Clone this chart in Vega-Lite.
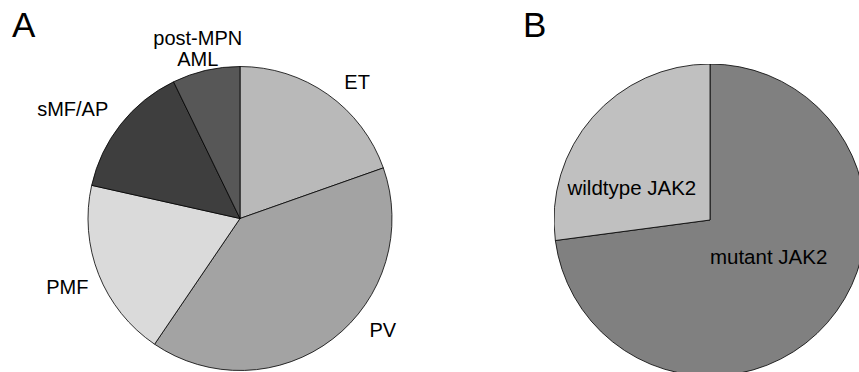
{
  "$schema": "https://vega.github.io/schema/vega-lite/v6.json",
  "background": "white",
  "padding": {"left": 12, "top": 8, "right": 0, "bottom": 0},
  "bounds": "flush",
  "spacing": 162,
  "resolve": {"scale": {"color": "independent", "theta": "independent"}},
  "config": {
    "view": {"stroke": null},
    "font": "Liberation Sans",
    "title": {"fontSize": 35, "fontWeight": "normal", "anchor": "start", "frame": "group", "color": "black", "font": "Liberation Sans"}
  },
  "hconcat": [
    {
      "width": 304,
      "height": 309,
      "title": {"text": "A", "dx": -76, "dy": 36},
      "data": {"values": [
        {"cat": "ET", "i": 1, "pct": 19.6},
        {"cat": "PV", "i": 2, "pct": 39.9},
        {"cat": "PMF", "i": 3, "pct": 19.0},
        {"cat": "sMF/AP", "i": 4, "pct": 14.3},
        {"cat": "post-MPN AML", "i": 5, "pct": 7.2}
      ]},
      "layer": [
        {
          "mark": {"type": "arc", "radius": 152, "stroke": "black", "strokeWidth": 0.8},
          "encoding": {
            "theta": {"field": "pct", "type": "quantitative", "stack": true},
            "order": {"field": "i"},
            "color": {"field": "cat", "type": "nominal", "legend": null,
              "scale": {"domain": ["ET", "PV", "PMF", "sMF/AP", "post-MPN AML"], "range": ["#b9b9b9", "#a3a3a3", "#dadada", "#3e3e3e", "#575757"]}}
          }
        },
        {
          "mark": {"type": "text", "radius": 175, "dx": 16, "dy": 13, "fontSize": 20, "align": "center", "baseline": "alphabetic", "color": "black"},
          "encoding": {
            "theta": {"field": "pct", "type": "quantitative", "stack": true},
            "order": {"field": "i"},
            "text": {"condition": {"test": "datum.cat === 'ET'", "field": "cat", "type": "nominal"}, "value": ""}
          }
        },
        {
          "mark": {"type": "text", "radius": 175, "dx": 36, "dy": -20, "fontSize": 20, "align": "center", "baseline": "alphabetic", "color": "black"},
          "encoding": {
            "theta": {"field": "pct", "type": "quantitative", "stack": true},
            "order": {"field": "i"},
            "text": {"condition": {"test": "datum.cat === 'PV'", "field": "cat", "type": "nominal"}, "value": ""}
          }
        },
        {
          "mark": {"type": "text", "radius": 175, "dx": -10, "dy": 11, "fontSize": 20, "align": "center", "baseline": "alphabetic", "color": "black"},
          "encoding": {
            "theta": {"field": "pct", "type": "quantitative", "stack": true},
            "order": {"field": "i"},
            "text": {"condition": {"test": "datum.cat === 'PMF'", "field": "cat", "type": "nominal"}, "value": ""}
          }
        },
        {
          "mark": {"type": "text", "radius": 175, "dx": -30, "dy": 6, "fontSize": 20, "align": "center", "baseline": "alphabetic", "color": "black"},
          "encoding": {
            "theta": {"field": "pct", "type": "quantitative", "stack": true},
            "order": {"field": "i"},
            "text": {"condition": {"test": "datum.cat === 'sMF/AP'", "field": "cat", "type": "nominal"}, "value": ""}
          }
        },
        {
          "mark": {"type": "text", "radius": 175, "dx": -3, "dy": -3, "fontSize": 20, "align": "center", "baseline": "alphabetic", "lineBreak": " ", "lineHeight": 21, "color": "black"},
          "encoding": {
            "theta": {"field": "pct", "type": "quantitative", "stack": true},
            "order": {"field": "i"},
            "text": {"condition": {"test": "datum.cat === 'post-MPN AML'", "field": "cat", "type": "nominal"}, "value": ""}
          }
        }
      ]
    },
    {
      "width": 305,
      "height": 309,
      "title": {"text": "B", "dx": -31, "dy": -15.8},
      "data": {"values": [
        {"cat": "mutant JAK2", "i": 1, "pct": 72.9},
        {"cat": "wildtype JAK2", "i": 2, "pct": 27.1}
      ]},
      "layer": [
        {
          "mark": {"type": "arc", "radius": 156, "stroke": "black", "strokeWidth": 0.8, "clip": true, "xOffset": 3.5, "yOffset": 1.5},
          "encoding": {
            "theta": {"field": "pct", "type": "quantitative", "stack": true},
            "order": {"field": "i"},
            "color": {"field": "cat", "type": "nominal", "legend": null,
              "scale": {"domain": ["mutant JAK2", "wildtype JAK2"], "range": ["#808080", "#c0c0c0"]}}
          }
        },
        {
          "mark": {"type": "text", "radius": 70, "dx": -22, "dy": 22.6, "fontSize": 20.5, "align": "center", "baseline": "alphabetic", "color": "black"},
          "encoding": {
            "theta": {"field": "pct", "type": "quantitative", "stack": true},
            "order": {"field": "i"},
            "text": {"condition": {"test": "datum.cat === 'wildtype JAK2'", "field": "cat", "type": "nominal"}, "value": ""}
          }
        },
        {
          "mark": {"type": "text", "radius": 60, "dx": 17, "dy": 5.7, "fontSize": 20.5, "align": "center", "baseline": "alphabetic", "color": "black"},
          "encoding": {
            "theta": {"field": "pct", "type": "quantitative", "stack": true},
            "order": {"field": "i"},
            "text": {"condition": {"test": "datum.cat === 'mutant JAK2'", "field": "cat", "type": "nominal"}, "value": ""}
          }
        }
      ]
    }
  ]
}
